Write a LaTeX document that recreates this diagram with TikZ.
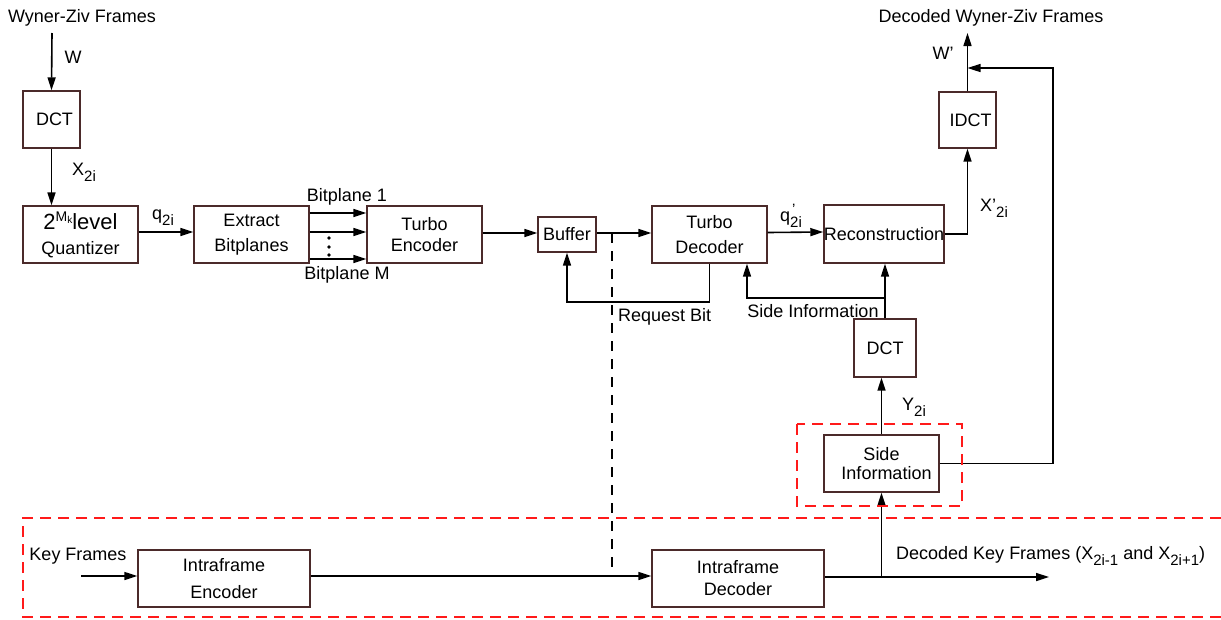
\documentclass[tikz,border=0pt]{standalone}
\usepackage{fontspec}
\setmainfont{Liberation Sans}
\usetikzlibrary{arrows.meta}
\definecolor{boxcol}{HTML}{4B2A2A}
\definecolor{dred}{HTML}{FF1A1A}
\newcommand\sbs[1]{\raisebox{-6pt}{\fontsize{15}{15}\selectfont #1}}
\begin{document}
\begin{tikzpicture}[x=1pt,y=-1pt,
  font=\fontsize{18}{25}\selectfont,
  box/.style={draw=boxcol, line width=1.4pt, inner sep=0pt, align=center},
  conn/.style={line width=1.6pt, -{Triangle[length=13pt,width=8pt]}},
  lbl/.style={inner sep=0pt},
  reddash/.style={draw=dred, line width=1.6pt, dash pattern=on 11pt off 7pt},
  blackdash/.style={draw=black, line width=1.5pt, dash pattern=on 10pt off 8pt}]
\useasboundingbox (0,0) rectangle (1221,619);

% boxes
\node[box, minimum width=57, minimum height=57] (dct1) at (51.5,119.5) {\hspace*{6pt}DCT};
\node[box, minimum width=115, minimum height=57] (quant) at (80.5,234.5)
  {{\fontsize{22}{22}\selectfont 2\raisebox{8pt}{\fontsize{14}{14}\selectfont M\raisebox{-2pt}{\fontsize{10}{10}\selectfont k}}level}\\Quantizer};
\node[box, minimum width=115, minimum height=57] (extract) at (251.5,234.5) {Extract\\Bitplanes};
\node[box, minimum width=115, minimum height=57] (tenc) at (424.5,234.5) {Turbo\\[-4pt]Encoder};
\node[box, minimum width=58, minimum height=35] (buffer) at (567,234.5) {Buffer};
\node[box, minimum width=115, minimum height=57] (tdec) at (709.5,234.5) {Turbo\\Decoder};
\node[box, minimum width=120, minimum height=58] (recon) at (884,234) {Reconstruction};
\node[box, minimum width=57, minimum height=56] (idct) at (967.5,120) {\hspace*{6pt}IDCT};
\node[box, minimum width=62, minimum height=58] (dct2) at (885,348) {DCT};
\node[box, minimum width=115, minimum height=57] (side) at (881.5,463.5) {Side\\[-6pt]\hspace*{10pt}Information};
\node[box, minimum width=172, minimum height=57] (ienc) at (224,578.5) {Intraframe\\[2pt]Encoder};
\node[box, minimum width=172, minimum height=57] (idec) at (738,578.5) {Intraframe\\[-3pt]Decoder};

% labels
\node[lbl] (wzf) at (82,18) {Wyner-Ziv Frames};
\node[lbl] (dwzf) at (991,18) {Decoded Wyner-Ziv Frames};
\node[lbl] (wl) at (73,57) {W};
\node[lbl] (xl) at (84,172) {X\sbs{2i}};
\node[lbl] (ql) at (163,218) {q\sbs{2i}};
\node[lbl] (bp1) at (347,197) {Bitplane 1};
\node[lbl] (bpm) at (347,275) {Bitplane M};
\node[lbl] (qpl) at (791,216) {q\rlap{\raisebox{7pt}{\fontsize{15}{15}\selectfont\hspace*{2pt}'}}\sbs{2i}};
\node[lbl] (xpl) at (994,208) {X'\sbs{2i}};
\node[lbl] (wpl) at (943,53) {W'};
\node[lbl] (yl) at (914,407) {Y\sbs{2i}};
\node[lbl, anchor=west] (reql) at (618,317) {Request Bit};
\node[lbl] (sil) at (813,311) {Side Information};
\node[lbl] (kfl) at (78,556) {Key Frames};
\node[lbl, anchor=west] (dkf) at (896,556) {Decoded Key Frames (X\sbs{2i-1} and X\sbs{2i+1})};

% dots
\foreach \yy in {238,247,255} \fill (329,\yy) circle (1.9pt);

% coordinates for free ends
\coordinate (win) at (52,33);
\coordinate (wout) at (967.5,33);
\coordinate (fb) at (1053,68);
\coordinate (req) at (567,302);
\coordinate (sib) at (885,298);
\coordinate (dtop) at (612,233);
\coordinate (dbot) at (612,570);
\coordinate (kin) at (81,576);
\coordinate (kout) at (1049,577);

% connectors
\draw[conn] (win) -- (dct1.north);
\draw[conn] (dct1.south) -- (quant.north -| dct1.south);
\draw[conn] ([yshift=2.5pt]quant.east) -- ([yshift=2.5pt]extract.west);
\draw[conn] ([yshift=21.5pt]extract.east) -- ([yshift=21.5pt]tenc.west);
\draw[conn] ([yshift=2.5pt]extract.east) -- ([yshift=2.5pt]tenc.west);
\draw[conn] ([yshift=-24.5pt]extract.east) -- ([yshift=-24.5pt]tenc.west);
\draw[conn] ([yshift=1.5pt]tenc.east) -- ([yshift=1.5pt]buffer.west);
\draw[conn] ([yshift=1.5pt]buffer.east) -- ([yshift=1.5pt]tdec.west);
\draw[conn] ([yshift=2pt]tdec.east) -- ([yshift=2pt]recon.west);
\draw[conn] (tdec.south) |- (req) -- (buffer.south);
\draw[conn] (recon.east) -| (idct.south);
\draw[conn] (idct.north) -- (wout);
\draw[conn] (side.east) -| (fb) -- (fb -| idct.north);
\draw[conn] (dct2.north) -- (recon.south -| dct2.north);
\draw[conn] (sib) -| ([xshift=37.5pt]tdec.south);
\draw[conn] (side.north) -- (dct2.south -| side.north);
\draw[blackdash] (dtop) -- (dbot);
\draw[conn] (kin) -- (ienc.west |- kin);
\draw[conn] (ienc.east |- kin) -- (idec.west |- kin);
\draw[conn] (idec.east |- kout) -- (kout);
\draw[conn] (side.south |- kout) -- (side.south);

% red dashed groups
\draw[reddash] (797,424) rectangle (962,506);
\draw[reddash] (1221,518) -- (23,518) -- (23,617) -- (1221,617);
\end{tikzpicture}
\end{document}
